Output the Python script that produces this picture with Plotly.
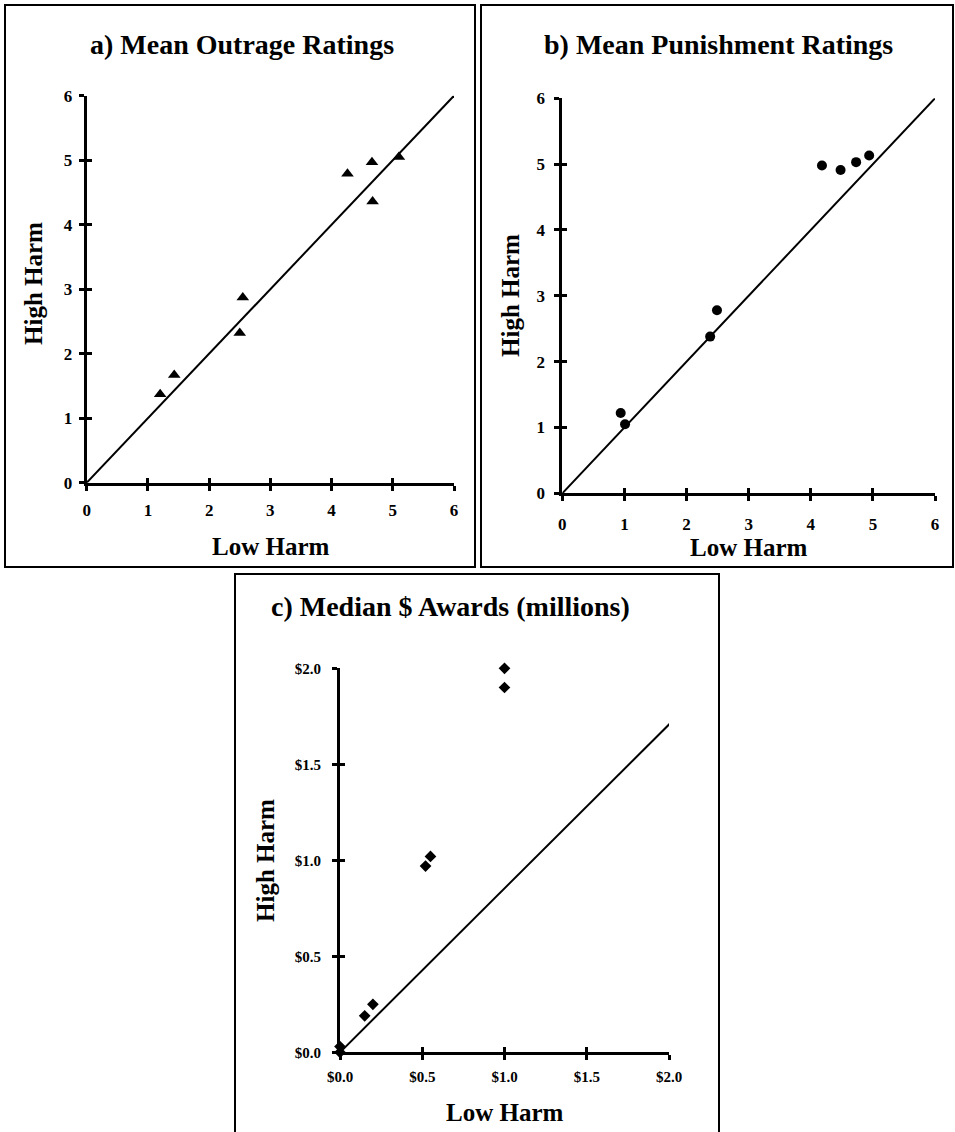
import plotly.graph_objects as go

# ---------------- data ----------------
outrage_low = [1.20, 1.43, 2.50, 2.55, 4.26, 4.66, 4.67, 5.10]
outrage_high = [1.37, 1.67, 2.32, 2.87, 4.79, 4.97, 4.36, 5.05]

punish_low = [0.94, 1.01, 2.38, 2.49, 4.18, 4.48, 4.73, 4.94]
punish_high = [1.22, 1.05, 2.38, 2.78, 4.98, 4.91, 5.03, 5.13]

award_low = [0.00, 0.00, 0.15, 0.20, 0.52, 0.55, 1.00, 1.00]
award_high = [0.00, 0.03, 0.19, 0.25, 0.97, 1.02, 1.90, 2.00]

diag_ab_x = [0, 6]
diag_ab_y = [0, 6]
diag_c_x = [0, 2.05]
diag_c_y = [0, 1.75]

rating_ticks = [0, 1, 2, 3, 4, 5, 6]
award_ticks = [0.0, 0.5, 1.0, 1.5, 2.0]
award_tick_labels = ["$0.0", "$0.5", "$1.0", "$1.5", "$2.0"]

titles = ["a) Mean Outrage Ratings", "b) Mean Punishment Ratings", "c) Median $ Awards (millions)"]
x_title = "Low Harm"
y_title = "High Harm"

# ---------------- layout helpers ----------------
W, H = 955, 1132
FONT = "Liberation Serif"


def px(x):
    return x / W


def py(y):
    return 1 - y / H


fig = go.Figure()

line_style = dict(color="black", width=2)

# panel a
fig.add_trace(go.Scatter(x=diag_ab_x, y=diag_ab_y, mode="lines", line=line_style,
                         xaxis="x", yaxis="y", showlegend=False, hoverinfo="skip"))
fig.add_trace(go.Scatter(x=outrage_low, y=outrage_high, mode="markers",
                         marker=dict(symbol="triangle-up", size=11, color="black"),
                         xaxis="x", yaxis="y", showlegend=False, cliponaxis=False))
# panel b
fig.add_trace(go.Scatter(x=diag_ab_x, y=diag_ab_y, mode="lines", line=line_style,
                         xaxis="x2", yaxis="y2", showlegend=False, hoverinfo="skip"))
fig.add_trace(go.Scatter(x=punish_low, y=punish_high, mode="markers",
                         marker=dict(symbol="circle", size=10, color="black"),
                         xaxis="x2", yaxis="y2", showlegend=False, cliponaxis=False))
# panel c
fig.add_trace(go.Scatter(x=diag_c_x, y=diag_c_y, mode="lines", line=line_style,
                         xaxis="x3", yaxis="y3", showlegend=False, hoverinfo="skip"))
fig.add_trace(go.Scatter(x=award_low, y=award_high, mode="markers",
                         marker=dict(symbol="diamond", size=9, color="black"),
                         xaxis="x3", yaxis="y3", showlegend=False, cliponaxis=False))

tick_font = dict(family=FONT, size=17, color="black", weight="bold")
tick_font_c = dict(family=FONT, size=15, color="black", weight="bold")


def main_axis(domain, anchor, rng, tickvals, ticktext, font, standoff):
    return dict(domain=domain, anchor=anchor, range=rng, tickmode="array",
                tickvals=tickvals, ticktext=ticktext, showgrid=False, zeroline=False,
                showline=True, linecolor="black", linewidth=3,
                ticks="outside", ticklen=5, tickwidth=3, tickcolor="black",
                tickfont=font, fixedrange=True, automargin=False,
                ticklabelstandoff=standoff)


def inner_axis(overlay, anchor, rng, tickvals):
    return dict(overlaying=overlay, anchor=anchor, range=rng, tickmode="array",
                tickvals=tickvals, showticklabels=False, showgrid=False,
                zeroline=False, showline=False, ticks="inside", ticklen=5,
                tickwidth=3, tickcolor="black", fixedrange=True, automargin=False)


dom_a_x = [px(86.7), px(454)]
dom_a_y = [py(482.7), py(95.7)]
dom_b_x = [px(562.3), px(935)]
dom_b_y = [py(493.3), py(98.3)]
dom_c_x = [px(340), px(669)]
dom_c_y = [py(1052.3), py(668.3)]

r6 = [0, 6]
r2 = [0, 2]
rt = [str(v) for v in rating_ticks]

layout = dict(
    template="none",
    width=W, height=H, margin=dict(l=0, r=0, t=0, b=0, pad=0),
    paper_bgcolor="white", plot_bgcolor="rgba(0,0,0,0)", showlegend=False,
    xaxis=main_axis(dom_a_x, "y", r6, rating_ticks, rt, tick_font, 5),
    yaxis=main_axis(dom_a_y, "x", r6, rating_ticks, rt, tick_font, 3),
    xaxis2=main_axis(dom_b_x, "y2", r6, rating_ticks, rt, tick_font, 8),
    yaxis2=main_axis(dom_b_y, "x2", r6, rating_ticks, rt, tick_font, 6),
    xaxis3=main_axis(dom_c_x, "y3", r2, award_ticks, award_tick_labels, tick_font_c, 4),
    yaxis3=main_axis(dom_c_y, "x3", r2, award_ticks, award_tick_labels, tick_font_c, 8),
    xaxis4=inner_axis("x", "y", r6, rating_ticks),
    yaxis4=inner_axis("y", "x", r6, rating_ticks),
    xaxis5=inner_axis("x2", "y2", r6, rating_ticks),
    yaxis5=inner_axis("y2", "x2", r6, rating_ticks),
    xaxis6=inner_axis("x3", "y3", r2, award_ticks),
    yaxis6=inner_axis("y3", "x3", r2, award_ticks),
)
fig.update_layout(**layout)

# empty traces so the overlay (inner-tick) axes render
for xa, ya in [("x4", "y4"), ("x5", "y5"), ("x6", "y6")]:
    fig.add_trace(go.Scatter(x=[None], y=[None], xaxis=xa, yaxis=ya, showlegend=False))

title_font = dict(family=FONT, size=28, color="black", weight="bold")
axis_title_font = dict(family=FONT, size=25, color="black", weight="bold")

annots = [
    (titles[0], 242, 45, 0, title_font),
    (titles[1], 718, 45, 0, title_font),
    (titles[2], 450, 606, 0, title_font),
    (x_title, 271, 546, 0, axis_title_font),
    (x_title, 749, 547, 0, axis_title_font),
    (x_title, 505, 1112, 0, axis_title_font),
    (y_title, 33, 284, -90, axis_title_font),
    (y_title, 510, 296, -90, axis_title_font),
    (y_title, 265, 861, -90, axis_title_font),
]
for text, x, y, ang, f in annots:
    fig.add_annotation(text=text.replace("$", "&#36;"), x=px(x), y=py(y), xref="paper", yref="paper",
                       xanchor="center", yanchor="middle", showarrow=False,
                       textangle=ang, font=f)

# panel frames
frames = [(5, 5, 475, 567), (481, 5, 953, 567), (235, 574, 719, 1140)]
for x0, y0, x1, y1 in frames:
    fig.add_shape(type="rect", xref="paper", yref="paper",
                  x0=px(x0), x1=px(x1), y0=py(y1), y1=py(y0),
                  line=dict(color="black", width=2), fillcolor="rgba(0,0,0,0)", layer="below")

fig.write_html("out.html", config={"displayModeBar": False},
               post_script="document.body.style.margin='0';document.body.style.overflow='hidden';")
